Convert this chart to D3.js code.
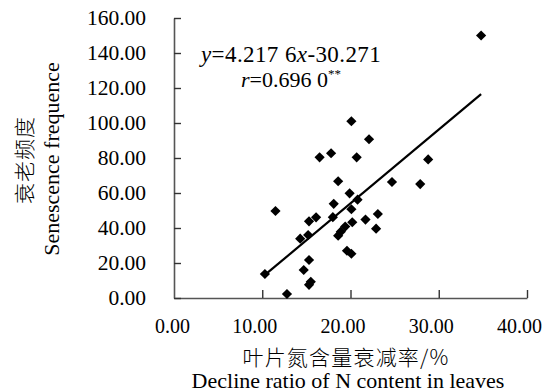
<!DOCTYPE html>
<html>
<head>
<meta charset="utf-8">
<script src="https://cdn.jsdelivr.net/npm/d3@7"></script>
<style>
  body { margin: 0; background: #fff; }
</style>
</head>
<body>
<svg id="chart" width="548" height="392"></svg>
<script>
// Data
const declineRatio = [34.8, 20.1, 22.1, 16.5, 17.8, 20.7, 28.8, 18.6, 24.7, 27.9,
  19.9, 20.8, 18.1, 20.1, 23.1, 21.7, 20.2, 18.0, 16.1, 15.3,
  11.5, 22.9, 19.4, 18.9, 18.6, 15.2, 14.3, 19.6, 20.1, 15.3,
  14.7, 15.5, 15.3, 10.3, 12.8];
const senescence = [150, 101, 90.7, 80.4, 82.7, 80.4, 79.2, 66.7, 66.3, 65.1,
  59.8, 56.2, 53.8, 50.7, 48, 44.8, 43.3, 46.2, 46.1, 43.8,
  49.7, 39.6, 40.8, 37.9, 35.6, 36, 33.9, 27, 25.3, 21.7,
  16, 9.3, 7.5, 13.7, 2.3];
const xTicks = [0, 10, 20, 30, 40];
const yTicks = [0, 20, 40, 60, 80, 100, 120, 140, 160];
const fit = { slope: 4.2176, intercept: -30.271 };

const serif = "font-family: 'Liberation Serif', 'Times New Roman', serif;";
const cjk = "font-family: 'Noto Sans CJK SC', sans-serif; font-weight: 300;";

const svg = d3.select("#chart");

const x = d3.scaleLinear().domain([0, 40]).range([174, 527]);
const y = d3.scaleLinear().domain([0, 160]).range([298, 18]);
const fmt = d3.format(".2f");

// Axes (ticks point inward)
const xAxis = svg.append("g")
    .attr("transform", "translate(0,298)")
    .call(d3.axisBottom(x).tickValues(xTicks).tickSizeInner(-8).tickSizeOuter(0).tickPadding(21).tickFormat(fmt));
const yAxis = svg.append("g")
    .attr("transform", "translate(174,0)")
    .call(d3.axisLeft(y).tickValues(yTicks).tickSizeInner(-7).tickSizeOuter(0).tickPadding(28).tickFormat(fmt));

[xAxis, yAxis].forEach(g => {
    g.attr("font-family", null).attr("font-size", null);
    g.select(".domain").attr("stroke", "#555").attr("stroke-width", 1.6);
    g.selectAll(".tick line").attr("stroke", "#333").attr("stroke-width", 1.4);
    g.selectAll(".tick text").attr("fill", "#000");
});
yAxis.selectAll(".tick text").attr("style", serif + " font-size: 21.5px;");
xAxis.selectAll(".tick text").attr("style", serif + " font-size: 20px;")
    .attr("dx", (d, i) => i === 0 ? -2 : -8);
xAxis.select(".tick line").attr("opacity", 0);

// Points as diamonds
const points = declineRatio.map((d, i) => ({ x: d, y: senescence[i] }));
svg.append("g").selectAll("path")
    .data(points)
    .join("path")
    .attr("d", d3.symbol(d3.symbolSquare, 52))
    .attr("transform", d => `translate(${x(d.x)},${y(d.y)}) rotate(45)`)
    .attr("fill", "#000");

// Regression line over the data range
const [xmin, xmax] = d3.extent(declineRatio);
svg.append("line")
    .attr("x1", x(xmin)).attr("y1", y(fit.slope * xmin + fit.intercept))
    .attr("x2", x(xmax)).attr("y2", y(fit.slope * xmax + fit.intercept))
    .attr("stroke", "#000").attr("stroke-width", 2.2);

// Equation
const eq = svg.append("text").attr("x", 201).attr("y", 62)
    .attr("style", serif + " font-size: 23px; letter-spacing: 0.4px;");
eq.append("tspan").attr("font-style", "italic").text("y");
eq.append("tspan").text("=4.217 6");
eq.append("tspan").attr("font-style", "italic").text("x");
eq.append("tspan").text("-30.271");

const rt = svg.append("text").attr("x", 241).attr("y", 87).attr("style", serif + " font-size: 22px;");
rt.append("tspan").attr("font-style", "italic").text("r");
rt.append("tspan").text("=0.696 0");
rt.append("tspan").attr("font-size", 13).attr("dy", -9).text("**");

// Axis titles
svg.append("text").attr("style", cjk + " font-size: 21px; letter-spacing: 1px;")
    .attr("transform", "translate(32,160) rotate(-90)")
    .attr("text-anchor", "middle")
    .text("衰老频度");
svg.append("text").attr("style", serif + " font-size: 22px;")
    .attr("transform", "translate(59,159) rotate(-90)")
    .attr("text-anchor", "middle")
    .text("Senescence frequence");
svg.append("text").attr("style", cjk + " font-size: 21px; letter-spacing: 1.2px;")
    .attr("x", 346).attr("y", 365)
    .attr("text-anchor", "middle")
    .text("叶片氮含量衰减率/%");
svg.append("text").attr("style", serif + " font-size: 22px;")
    .attr("x", 348).attr("y", 388)
    .attr("text-anchor", "middle")
    .text("Decline ratio of N content in leaves");
</script>
</body>
</html>
